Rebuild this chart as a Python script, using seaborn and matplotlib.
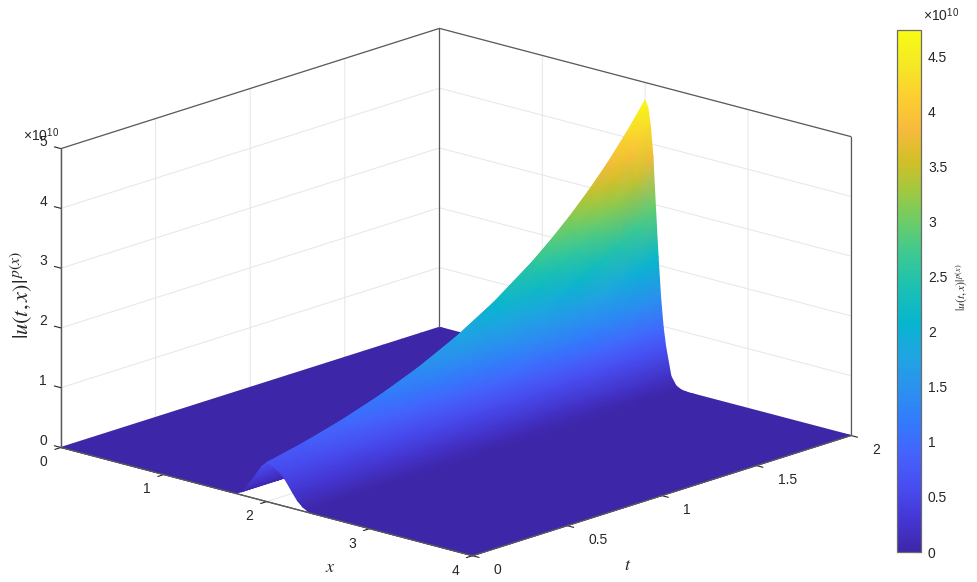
import matplotlib
matplotlib.use('Agg')
import matplotlib.pyplot as plt
import numpy as np
import seaborn as sns
from matplotlib.cm import ScalarMappable
from matplotlib.colors import Normalize
from mpl_toolkits.mplot3d import proj3d

# values, heights in units of 1e10
t_values = [0, 0.2, 0.4, 0.6, 0.8, 1.0, 1.2, 1.4, 1.5, 1.6, 1.7, 1.8, 1.9, 2.0]
x_values = [0, 1.65, 1.7, 1.75, 1.8, 1.85, 1.9, 1.95, 2.0, 2.025, 2.05, 2.075, 2.1,
            2.125, 2.15, 2.175, 2.2, 2.25, 2.3, 2.35, 2.4, 2.45, 4]
# one row per x value, one column per t value
heights = [
    [0, 0, 0, 0, 0, 0, 0, 0, 0, 0, 0, 0, 0, 0],
    [0, 0, 0, 0, 0, 0, 0, 0, 0, 0, 0, 0, 0, 0],
    [.01, .01, .01, .01, .01, .01, .01, .01, .01, .01, .01, .01, .01, .01],
    [.05, .052, .055, .058, .06, .063, .066, .07, .0715, .073, .0745, .076, .078, .08],
    [.15, .163, .178, .193, .211, .229, .249, .271, .283, .295, .308, .322, .336, .35],
    [.28, .315, .354, .398, .447, .502, .565, .635, .673, .713, .756, .801, .849, .9],
    [.42, .491, .574, .671, .784, .917, 1.07, 1.25, 1.35, 1.46, 1.58, 1.71, 1.85, 2.0],
    [.56, .673, .808, .97, 1.165, 1.4, 1.68, 2.02, 2.22, 2.43, 2.66, 2.91, 3.19, 3.5],
    [.65, .79, .964, 1.175, 1.431, 1.744, 2.125, 2.589, 2.858, 3.154, 3.481, 3.843, 4.25, 4.7],
    [.645, .785, .955, 1.16, 1.42, 1.72, 2.1, 2.55, 2.82, 3.11, 3.43, 3.78, 4.17, 4.6],
    [.63, .764, .926, 1.12, 1.36, 1.65, 2.0, 2.42, 2.67, 2.94, 3.23, 3.55, 3.91, 4.3],
    [.61, .732, .878, 1.05, 1.26, 1.52, 1.82, 2.19, 2.4, 2.62, 2.87, 3.15, 3.46, 3.8],
    [.58, .683, .804, .946, 1.11, 1.31, 1.54, 1.81, 1.96, 2.13, 2.31, 2.51, 2.72, 2.95],
    [.55, .63, .722, .828, .948, 1.09, 1.25, 1.43, 1.53, 1.64, 1.76, 1.88, 2.01, 2.15],
    [.51, .567, .631, .701, .78, .866, .963, 1.07, 1.13, 1.19, 1.25, 1.32, 1.39, 1.47],
    [.46, .496, .535, .578, .623, .672, .725, .782, .812, .843, .875, .909, .944, .98],
    [.4, .42, .442, .464, .488, .513, .539, .567, .581, .596, .611, .627, .643, .66],
    [.27, .262, .254, .246, .239, .232, .225, .219, .215, .212, .209, .206, .203, .2],
    [.15, .137, .125, .114, .104, .095, .086, .079, .075, .072, .069, .066, .063, .06],
    [.07, .06, .051, .044, .038, .032, .028, .024, .022, .02, .019, .018, .016, .015],
    [.02, .016, .014, .011, .009, .008, .006, .005, .0045, .004, .004, .004, .0035, .003],
    [0, 0, 0, 0, 0, 0, 0, 0, 0, 0, 0, 0, 0, 0],
    [0, 0, 0, 0, 0, 0, 0, 0, 0, 0, 0, 0, 0, 0],
]
x_ticks = [0, 1, 2, 3, 4]
t_ticks = [0, 0.5, 1, 1.5, 2]
t_tick_labels = ['0', '0.5', '1', '1.5', '2']
z_ticks = [0, 1, 2, 3, 4, 5]
bar_ticks = [0, 0.5, 1, 1.5, 2, 2.5, 3, 3.5, 4, 4.5]
bar_tick_labels = ['0', '0.5', '1', '1.5', '2', '2.5', '3', '3.5', '4', '4.5']
parula = [(.2422, .1504, .6603), (.2706, .2147, .8364), (.2813, .3006, .9414),
          (.2699, .3892, .9906), (.1963, .4847, .9892), (.1687, .5703, .9359),
          (.1248, .6459, .8883), (.0297, .7082, .8163), (.0964, .75, .712),
          (.2161, .7843, .5923), (.3909, .8029, .4354), (.6174, .7876, .2612),
          (.8203, .7498, .1535), (.9728, .7298, .2394), (.9892, .8136, .1885),
          (.9597, .9135, .1423), (.9769, .9839, .0805)]

sns.set_theme(style='white')
plt.rcParams['font.family'] = ['Liberation Sans', 'DejaVu Sans']
plt.rcParams['mathtext.fontset'] = 'stix'

text_color = '#262626'
edge_color = '#5a5a5a'
grid_color = '#e6e6e6'
W, H = 977, 582
cmap = sns.blend_palette(parula, n_colors=256, as_cmap=True)
norm = Normalize(0, 4.74)

fig = plt.figure(figsize=(W / 100, H / 100), dpi=100)
side = 825.6
ax = fig.add_axes([32 / W, -134 / H, side / W, side / H], projection='3d', proj_type='ortho')
ax.patch.set_alpha(0)
ax.set_xlim(0, 4)
ax.set_ylim(0, 2)
ax.set_zlim(0, 5)
ax.set_box_aspect((556, 562, 312))
ax.view_init(elev=16.8, azim=-47.7)

ax.set_xticks(x_ticks)
ax.set_yticks(t_ticks)
ax.set_yticklabels(t_tick_labels)
ax.set_zticks(z_ticks)
ax.zaxis.set_ticks_position('lower')
ax.zaxis._get_tickdir = lambda position: 0  # z ticks point along x like the original
ax.tick_params(colors=text_color, labelsize=10)
ax.tick_params(axis='x', pad=3)
ax.tick_params(axis='y', pad=8)
ax.tick_params(axis='z', pad=-1)
for label in ax.get_xticklabels():
    label.set_ha('right')
    label.set_va('center')
for label in ax.get_yticklabels():
    label.set_ha('left')
    label.set_va('bottom')
for label in ax.get_zticklabels():
    label.set_va('bottom')
for axis in (ax.xaxis, ax.yaxis, ax.zaxis):
    axis.set_pane_color((1, 1, 1, 1))
    axis.pane.set_edgecolor((1, 1, 1, 0))
    axis.line.set_color(edge_color)
    axis.line.set_linewidth(0.9)
    axis._axinfo['grid']['color'] = grid_color
    axis._axinfo['grid']['linewidth'] = 0.7
    axis._axinfo['tick']['color'] = edge_color
    axis._axinfo['tick']['linewidth'] = {True: 0.8, False: 0.8}
    axis._axinfo['tick']['inward_factor'] = 0.2
    axis._axinfo['tick']['outward_factor'] = 0
ax.zaxis._axinfo['tick']['inward_factor'] = 0
ax.zaxis._axinfo['tick']['outward_factor'] = 0.2


def project(xs, ts, zs):
    px, py, _ = proj3d.proj_transform(np.ravel(xs), np.ravel(ts), np.ravel(zs), ax.get_proj())
    return px.reshape(np.shape(xs)), py.reshape(np.shape(xs))


# surface goes on a see-through axes, back rows first, so colours blend smoothly
overlay = fig.add_axes([0, 0, 1, 1], zorder=5)
overlay.axis('off')
x_grid, t_grid = np.meshgrid(x_values, t_values[::-1])
z_grid = np.array(heights).T[::-1]
px, py = project(x_grid, t_grid, z_grid)
overlay.pcolormesh(px, py, z_grid, shading='gouraud', cmap=cmap, norm=norm, transform=ax.transData)

# box outline, drawn here so the grid does not cover it
box_lines = [([0, 4, 4], [0, 0, 2], [0, 0, 0]),
             ([0, 0, 4], [0, 2, 2], [5, 5, 5]),
             ([0, 0], [0, 0], [0, 5]),
             ([0, 0], [2, 2], [0, 5]),
             ([4, 4], [2, 2], [0, 5])]
for bx, bt, bz in box_lines:
    ex, ey = project(bx, bt, bz)
    overlay.plot(ex, ey, color=edge_color, lw=0.9, transform=ax.transData)
overlay.set_xlim(0, 1)
overlay.set_ylim(0, 1)

fig.text(330 / W, 1 - 567 / H, r'$x$', fontsize=13, color=text_color, ha='center', va='center')
fig.text(628 / W, 1 - 565 / H, r'$t$', fontsize=13, color=text_color, ha='center', va='center')
fig.text(22 / W, 1 - 295 / H, r'$|u(t,x)|^{\,p(x)}$', fontsize=16, color=text_color,
         rotation=90, ha='center', va='center')
fig.text(23 / W, 1 - 135 / H, '×10$^{\\mathdefault{10}}$', fontsize=10, color=text_color, ha='left', va='center')

cax = fig.add_axes([897 / W, 1 - 552 / H, 24 / W, 522 / H])
cbar = fig.colorbar(ScalarMappable(norm=norm, cmap=cmap), cax=cax)
cbar.set_ticks(bar_ticks)
cbar.set_ticklabels(bar_tick_labels)
cbar.ax.tick_params(direction='in', length=5, width=0.8, colors=text_color, color=edge_color,
                    labelsize=10, pad=5)
cbar.outline.set_edgecolor('#6a6a6a')
cbar.outline.set_linewidth(0.9)
fig.text(961 / W, 1 - 287 / H, r'$|u(t,x)|^{\,p(x)}$', fontsize=8.5, color=text_color,
         rotation=90, ha='center', va='center')
fig.text(923 / W, 1 - 15 / H, '×10$^{\\mathdefault{10}}$', fontsize=10, color=text_color, ha='left', va='center')

fig.savefig('out.png', dpi=100)
